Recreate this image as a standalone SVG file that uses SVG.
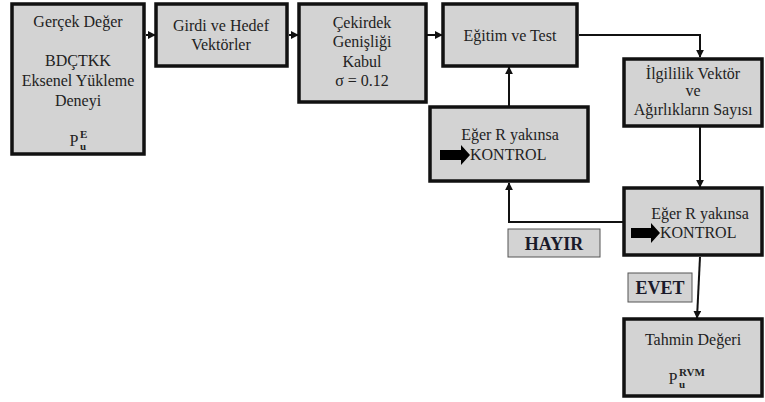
<svg xmlns="http://www.w3.org/2000/svg" width="765" height="402" viewBox="0 0 765 402">
<defs>
<style>
.box{fill:#d3d3d3;stroke:#111;stroke-width:3.5}
.lbl{fill:#d3d3d3;stroke:#555;stroke-width:1}
.t{font-family:'Liberation Serif','Tinos','DejaVu Serif',serif;font-size:16px;fill:#222;text-anchor:middle}
.b{font-family:'Liberation Serif','Tinos','DejaVu Serif',serif;font-size:18px;font-weight:bold;fill:#1a1a2a;text-anchor:middle}
.sm{font-family:'Liberation Serif','Tinos','DejaVu Serif',serif;font-size:11px;font-weight:bold;fill:#222}
.c{fill:none;stroke:#111;stroke-width:2}
</style>
<marker id="ah" viewBox="0 0 10 10" refX="9" refY="5" markerWidth="4" markerHeight="4" orient="auto" markerUnits="strokeWidth">
<path d="M0,0 L10,5 L0,10 z" fill="#111"/>
</marker>
</defs>
<rect width="765" height="402" fill="#fff"/>

<g id="connectors">
<line class="c" x1="146" y1="35" x2="155" y2="35" marker-end="url(#ah)"/>
<line class="c" x1="289" y1="35" x2="298" y2="35" marker-end="url(#ah)"/>
<line class="c" x1="426" y1="35" x2="442" y2="35" marker-end="url(#ah)"/>
<polyline class="c" points="579,35 700,35 700,57" marker-end="url(#ah)"/>
<line class="c" x1="509" y1="106" x2="509" y2="67" marker-end="url(#ah)"/>
<line class="c" x1="700" y1="127" x2="700" y2="187" marker-end="url(#ah)"/>
<polyline class="c" points="623,222 509,222 509,183" marker-end="url(#ah)"/>
<line class="c" x1="700" y1="257" x2="697" y2="318" marker-end="url(#ah)"/>
</g>

<g id="gercek">
<rect class="box" x="12" y="4" width="132" height="150"/>
<text class="t" x="78" y="27">Gerçek Değer</text>
<text class="t" x="78" y="66">BDÇTKK</text>
<text class="t" x="78" y="86">Eksenel Yükleme</text>
<text class="t" x="78" y="106">Deneyi</text>
<text class="t" x="74" y="146">P</text>
<text class="sm" x="80" y="150">u</text>
<text class="sm" x="80" y="138">E</text>
</g>

<g id="girdi">
<rect class="box" x="156" y="4" width="131" height="62"/>
<text class="t" x="221" y="31">Girdi ve Hedef</text>
<text class="t" x="221" y="50">Vektörler</text>
</g>

<g id="cekirdek">
<rect class="box" x="299" y="4" width="127" height="98"/>
<text class="t" x="362" y="28">Çekirdek</text>
<text class="t" x="362" y="47">Genişliği</text>
<text class="t" x="362" y="67">Kabul</text>
<text class="t" x="362" y="86">σ = 0.12</text>
</g>

<g id="egitim">
<rect class="box" x="443" y="4" width="134" height="62"/>
<text class="t" x="510" y="41">Eğitim ve Test</text>
</g>

<g id="ilgililik">
<rect class="box" x="624" y="59" width="138" height="67"/>
<text class="t" x="693" y="79">İlgililik Vektör</text>
<text class="t" x="693" y="96">ve</text>
<text class="t" x="693" y="115">Ağırlıkların Sayısı</text>
</g>

<g id="kontrol1">
<rect class="box" x="430" y="107" width="158" height="74"/>
<text class="t" x="510" y="140">Eğer R yakınsa</text>
<polygon points="440,150 461,150 461,145 470,155 461,165 461,160 440,160" fill="#000"/>
<text class="t" x="470" y="160" style="text-anchor:start">KONTROL</text>
</g>

<g id="kontrol2">
<rect class="box" x="624" y="188" width="138" height="67"/>
<text class="t" x="700" y="219">Eğer R yakınsa</text>
<polygon points="631,228 651,228 651,223 660,233 651,243 651,238 631,238" fill="#000"/>
<text class="t" x="660" y="238" style="text-anchor:start">KONTROL</text>
</g>

<g id="hayir">
<rect class="lbl" x="508" y="229" width="92" height="28"/>
<text class="b" x="554" y="250">HAYIR</text>
</g>

<g id="evet">
<rect class="lbl" x="628" y="273" width="64" height="29"/>
<text class="b" x="660" y="294">EVET</text>
</g>

<g id="tahmin">
<rect class="box" x="624" y="319" width="138" height="77"/>
<text class="t" x="693" y="345">Tahmin Değeri</text>
<text class="t" x="673" y="384">P</text>
<text class="sm" x="679" y="388">u</text>
<text class="sm" x="679" y="376">RVM</text>
</g>
</svg>
